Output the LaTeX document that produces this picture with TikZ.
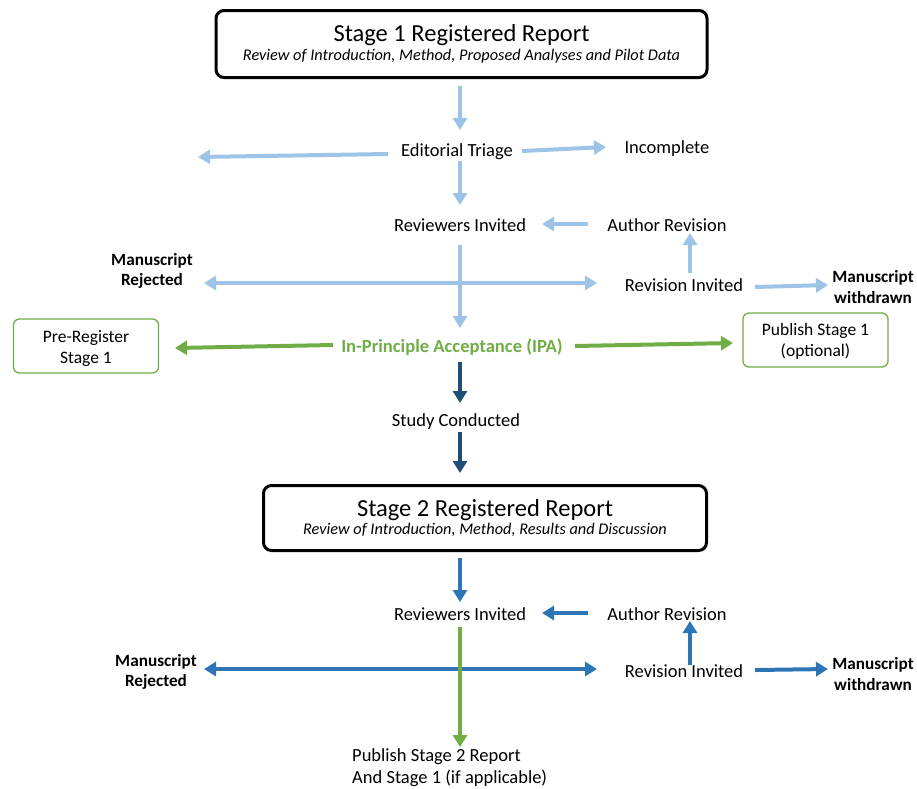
\documentclass[tikz,border=0pt]{standalone}
\usepackage{fontspec}
\setmainfont{Carlito}
\usetikzlibrary{arrows.meta}
\definecolor{lblue}{HTML}{9DC3E6}
\definecolor{mblue}{HTML}{2E75B6}
\definecolor{dblue}{HTML}{1F4E79}
\definecolor{grn}{HTML}{70AD47}
\begin{document}
\begin{tikzpicture}[x=1pt,y=-1pt,
  arr/.style={line width=4pt, -{Triangle[length=12pt,width=14pt]}},
  darr/.style={line width=4pt, {Triangle[length=12pt,width=14pt]}-{Triangle[length=12pt,width=14pt]}},
  lbl/.style={font=\fontsize{18.5}{22}\selectfont, inner sep=1pt},
  boldlbl/.style={font=\bfseries\fontsize{17.2}{20.5}\selectfont, align=center, inner sep=1pt},
  stagebox/.style={draw, line width=3pt, rounded corners=8pt, align=center, inner sep=0pt},
  gbox/.style={draw=grn, line width=1.3pt, rounded corners=6pt, minimum width=145pt, minimum height=54pt, inner sep=0pt},
  gtext/.style={align=center, inner sep=0pt, font=\fontsize{17.5}{20.5}\selectfont}]
\useasboundingbox (0,0) rectangle (917,788);

% stage boxes
\node[stagebox, minimum width=491pt, minimum height=67pt] (s1) at (461.5,44)
  {{\fontsize{24.5}{28}\selectfont Stage 1 Registered Report}\\[3pt]{\itshape\fontsize{16.3}{19}\selectfont Review of Introduction, Method, Proposed Analyses and Pilot Data}};
\node[stagebox, minimum width=443pt, minimum height=65pt] (s2) at (485,518)
  {{\fontsize{24.5}{28}\selectfont Stage 2 Registered Report}\\[2pt]{\itshape\fontsize{16.3}{19}\selectfont Review of Introduction, Method, Results and Discussion}};

% stage 1 labels
\node[lbl] (et) at (457,152) {Editorial Triage};
\node[lbl] (inc) at (667,149) {Incomplete};
\node[lbl] (rv1) at (460,225) {Reviewers Invited};
\node[lbl] (ar1) at (667,225) {Author Revision};
\node[boldlbl] (mr1) at (152,271) {Manuscript\\Rejected};
\node[lbl] (ri1) at (684,285) {Revision Invited};
\node[boldlbl] (mw1) at (873,287) {Manuscript\\withdrawn};
\node[gbox] (pre) at (86,346) {};
\node[gtext] (pretxt) at ([yshift=-2.5pt]pre.center) {Pre-Register\\Stage 1};
\node[gbox] (pub) at (815.5,340) {};
\node[gtext] (pubtxt) at ([yshift=-1.5pt]pub.center) {Publish Stage 1\\(optional)};
\node[boldlbl, text=grn, font=\bfseries\fontsize{18.6}{22}\selectfont] (ipa) at (452,347) {In-Principle Acceptance (IPA)};
\node[lbl] (sc) at (456,422) {Study Conducted};

% stage 2 labels
\node[lbl] (rv2) at (460,614) {Reviewers Invited};
\node[lbl] (ar2) at (667,614) {Author Revision};
\node[boldlbl] (mr2) at (156,672) {Manuscript\\Rejected};
\node[lbl] (ri2) at (684,671) {Revision Invited};
\node[boldlbl] (mw2) at (873,674) {Manuscript\\withdrawn};
\node[lbl, anchor=west, align=left, font=\fontsize{18.5}{22}\selectfont] (pub2) at (351,768) {Publish Stage 2 Report\\And Stage 1 (if applicable)};

% arrow end points
\coordinate (a1s) at (460,86);  \coordinate (a1e) at (460,130);
\coordinate (a2s) at (388,154); \coordinate (a2e) at (198,157);
\coordinate (a3s) at (522,151); \coordinate (a3e) at (606,147);
\coordinate (a4s) at (460,161); \coordinate (a4e) at (460,205);
\coordinate (a5s) at (588,224); \coordinate (a5e) at (542,224);
\coordinate (a6s) at (690,273); \coordinate (a6e) at (690,233);
\coordinate (a7s) at (460,245); \coordinate (a7e) at (460,328);
\coordinate (a8s) at (204,283); \coordinate (a8e) at (597,283);
\coordinate (a9s) at (755,287); \coordinate (a9e) at (828,285);
\coordinate (g1s) at (333,345); \coordinate (g1e) at (175,348);
\coordinate (g2s) at (575,346); \coordinate (g2e) at (733,343);
\coordinate (d1s) at (460,362); \coordinate (d1e) at (460,403);
\coordinate (d2s) at (460,432); \coordinate (d2e) at (460,473);
\coordinate (m1s) at (460,558); \coordinate (m1e) at (460,602);
\coordinate (m2s) at (588,613); \coordinate (m2e) at (542,613);
\coordinate (m3s) at (690,665); \coordinate (m3e) at (690,621);
\coordinate (m4s) at (204,669); \coordinate (m4e) at (597,669);
\coordinate (m5s) at (755,670); \coordinate (m5e) at (828,669);
\coordinate (g3s) at (460,627); \coordinate (g3e) at (460,747);

% stage 1 arrows
\draw[arr, lblue] (a1s) -- (a1e);
\draw[arr, lblue] (a2s) -- (a2e);
\draw[arr, lblue] (a3s) -- (a3e);
\draw[arr, lblue] (a4s) -- (a4e);
\draw[arr, lblue] (a5s) -- (a5e);
\draw[arr, lblue] (a6s) -- (a6e);
\draw[darr, lblue] (a8s) -- (a8e);
\draw[arr, lblue] (a7s) -- (a7e);
\draw[arr, lblue] (a9s) -- (a9e);
\draw[arr, grn] (g1s) -- (g1e);
\draw[arr, grn] (g2s) -- (g2e);
\draw[arr, dblue] (d1s) -- (d1e);
\draw[arr, dblue] (d2s) -- (d2e);

% stage 2 arrows
\draw[arr, mblue] (m1s) -- (m1e);
\draw[arr, mblue] (m2s) -- (m2e);
\draw[arr, mblue] (m3s) -- (m3e);
\draw[darr, mblue] (m4s) -- (m4e);
\draw[arr, mblue] (m5s) -- (m5e);
\draw[arr, grn] (g3s) -- (g3e);
\end{tikzpicture}
\end{document}
